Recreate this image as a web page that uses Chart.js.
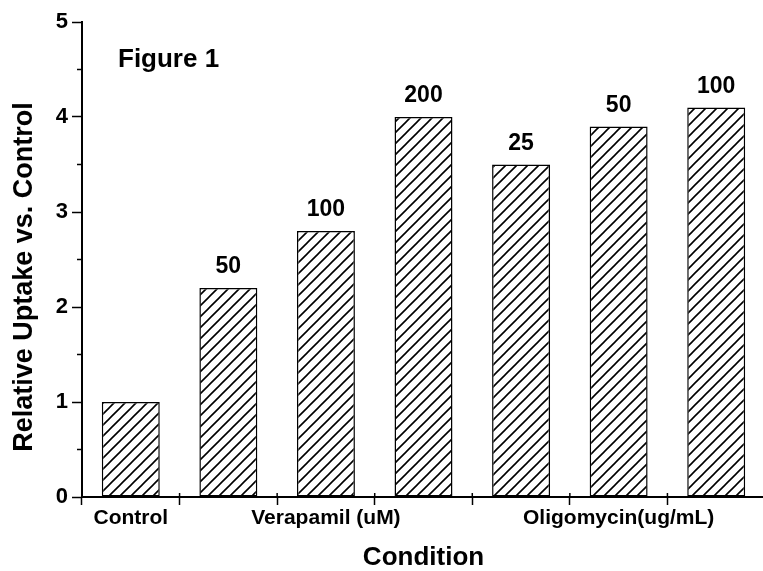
<!DOCTYPE html>
<html><head><meta charset="utf-8">
<script src="https://cdn.jsdelivr.net/npm/chart.js@4.4.0/dist/chart.umd.min.js"></script>
<style>
html,body{margin:0;padding:0;overflow:hidden;background:#fff;}
#wrap{position:relative;width:770px;height:571px;}
</style></head><body>
<div id="wrap"><canvas id="c" width="770" height="571"></canvas></div>
<script>
const tickLabels = ["Control", "", "Verapamil (uM)", "", "", "Oligomycin(ug/mL)", ""];
const doseLabels = ["", "50", "100", "200", "25", "50", "100"];
const values = [1.0, 2.2, 2.8, 4.0, 3.5, 3.9, 4.1];
const yMajorTicks = [0, 1, 2, 3, 4, 5];
const yMinorTicks = [0.5, 1.5, 2.5, 3.5, 4.5];
const figureTitle = "Figure 1";
const yTitle = "Relative Uptake vs. Control";
const xTitle = "Condition";

const FONT = '"Liberation Sans", Arial, sans-serif';

function hatch() {
  const s = 11;
  const c = document.createElement('canvas');
  c.width = s; c.height = s;
  const g = c.getContext('2d');
  g.fillStyle = '#fff'; g.fillRect(0, 0, s, s);
  g.strokeStyle = '#000'; g.lineWidth = 1.6;
  g.beginPath();
  for (const o of [-s, 0, s]) { g.moveTo(o - 1, s + 1); g.lineTo(o + s + 1, -1); }
  g.stroke();
  return g.createPattern(c, 'repeat');
}

const decor = {
  id: 'decor',
  afterDraw(chart) {
    const { ctx, scales: { x, y } } = chart;
    const meta = chart.getDatasetMeta(0);
    ctx.save();
    ctx.fillStyle = '#000';
    ctx.strokeStyle = '#000';
    ctx.lineWidth = 1.5;
    // minor y ticks
    yMinorTicks.forEach(v => {
      const py = y.getPixelForValue(v);
      ctx.beginPath(); ctx.moveTo(y.right - 5, py); ctx.lineTo(y.right, py); ctx.stroke();
    });
    // inner stubs of x ticks (category boundaries)
    for (let i = 0; i <= tickLabels.length; i++) {
      const px = x.getPixelForValue(i - 0.5);
      ctx.beginPath(); ctx.moveTo(px, x.top - 4); ctx.lineTo(px, x.top); ctx.stroke();
    }
    // dose labels above bars
    ctx.font = 'bold 23px ' + FONT;
    ctx.textAlign = 'center'; ctx.textBaseline = 'alphabetic';
    meta.data.forEach((bar, i) => {
      if (doseLabels[i]) ctx.fillText(doseLabels[i], bar.x, bar.y - 15);
    });
    // figure label
    ctx.font = 'bold 26px ' + FONT;
    ctx.textAlign = 'left';
    ctx.fillText(figureTitle, 118, 67);
    // y title
    ctx.translate(25, 277);
    ctx.rotate(-Math.PI / 2);
    ctx.textAlign = 'center'; ctx.textBaseline = 'middle';
    ctx.font = 'bold 27px ' + FONT;
    ctx.fillText(yTitle, 0, 0);
    ctx.restore();
  }
};

new Chart(document.getElementById('c'), {
  type: 'bar',
  data: {
    labels: tickLabels,
    datasets: [{
      data: values,
      backgroundColor: hatch(),
      borderColor: '#000',
      borderWidth: 1.5,
      borderSkipped: false,
      categoryPercentage: 1.0,
      barPercentage: 0.594
    }]
  },
  options: {
    responsive: false,
    animation: false,
    layout: { padding: { top: 22, right: 5, left: 0, bottom: 0 } },
    plugins: { legend: { display: false }, tooltip: { enabled: false } },
    scales: {
      x: {
        grid: { display: true, drawOnChartArea: false, offset: true, tickLength: 8, tickWidth: 1.5, tickColor: '#000' },
        border: { display: true, color: '#000', width: 2 },
        ticks: { color: '#000', font: { family: FONT, size: 21, weight: 'bold' }, padding: 1, autoSkip: false, maxRotation: 0 },
        title: { display: true, text: xTitle, color: '#000', font: { family: FONT, size: 26, weight: 'bold', lineHeight: 1 }, padding: 0 },
        afterFit(scale) { scale.height = 74; }
      },
      y: {
        min: 0, max: 5,
        afterBuildTicks(scale) { scale.ticks = yMajorTicks.map(v => ({ value: v })); },
        grid: { display: true, drawOnChartArea: false, tickLength: 10, tickWidth: 1.5, tickColor: '#000' },
        border: { display: true, color: '#000', width: 2 },
        ticks: { color: '#000', font: { family: FONT, size: 22, weight: 'bold' }, padding: 4 },
        afterFit(scale) { scale.width = 82; }
      }
    }
  },
  plugins: [decor]
});
</script>
</body></html>
